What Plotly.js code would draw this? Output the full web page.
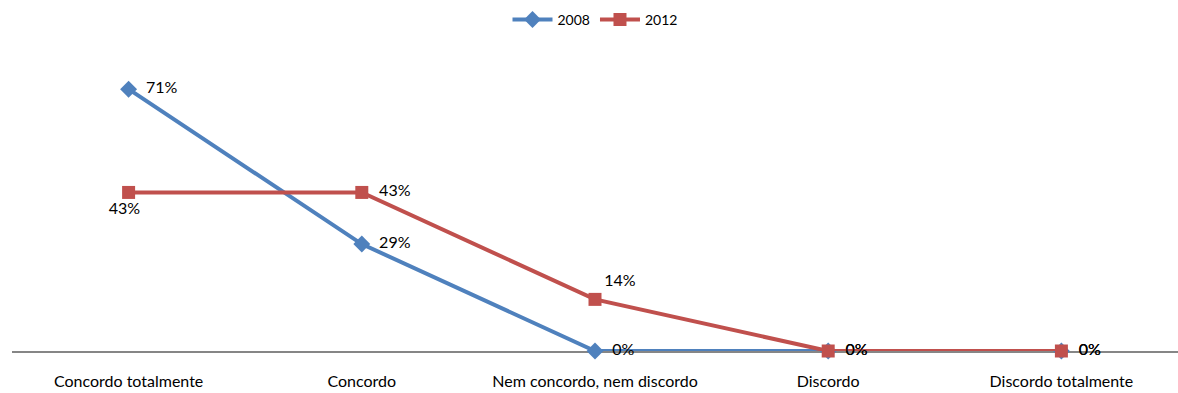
<!DOCTYPE html>
<html><head><meta charset="utf-8">
<script src="https://cdn.plot.ly/plotly-3.0.1.min.js"></script>
<style>body{margin:0;background:#fff}#c{width:1178px;height:393px}</style>
</head><body><div id="c"></div>
<script>
var categories = ["Concordo totalmente","Concordo","Nem concordo, nem discordo","Discordo","Discordo totalmente"];
var values2008 = [0.71, 0.29, 0.00, 0.00, 0.00];
var values2012 = [0.43, 0.43, 0.14, 0.00, 0.00];
var labels2008 = ["71%","29%","0%","0%","0%"];
var labels2012 = ["43%","43%","14%","0%","0%"];

var font = "Lato, 'Open Sans', sans-serif";
var sp = "\u00a0\u00a0";
var t2008 = labels2008.map(function(s){return sp + s;});
var t2012 = labels2012.map(function(s, i){return i === 0 ? s + "\u00a0\u00a0" : (i === 2 ? s : sp + s);});
var traces = [
 {x: categories, y: values2008, name: "2008", type: "scatter", mode: "lines+markers+text",
  text: t2008, textposition: "middle right",
  textfont: {family: font, size: 16, color: "#000"},
  line: {color: "#4F81BD", width: 4}, marker: {symbol: "diamond", size: 13, color: "#4F81BD"}, cliponaxis: false},
 {x: categories, y: values2012, name: "2012", type: "scatter", mode: "lines+markers+text",
  text: t2012, textposition: ["bottom center","middle right","top right","middle right","middle right"],
  textfont: {family: font, size: 16, color: "#000"},
  line: {color: "#C0504D", width: 4}, marker: {symbol: "square", size: 13, color: "#C0504D"}, cliponaxis: false}
];
var layout = {
 width: 1178, height: 393,
 margin: {l: 12, r: 0, t: 56, b: 42},
 paper_bgcolor: "#fff", plot_bgcolor: "#fff",
 font: {family: font, size: 16, color: "#000"},
 showlegend: true,
 legend: {orientation: "h", x: 0.5, xanchor: "center", y: 0.99, yref: "container", yanchor: "top",
  itemwidth: 40, font: {family: font, size: 14}},
 xaxis: {type: "category", range: [-0.5, 4.5], showgrid: false, zeroline: false,
  showline: true, linecolor: "#868686", linewidth: 2, ticks: "", ticklabelstandoff: 15,
  layer: "below traces", tickfont: {family: font, size: 16, color: "#000"}},
 yaxis: {range: [0, 0.8], showgrid: false, zeroline: false, showline: false, showticklabels: false, ticks: ""}
};
Plotly.newPlot("c", traces, layout, {displayModeBar: false, staticPlot: true});
</script></body></html>
